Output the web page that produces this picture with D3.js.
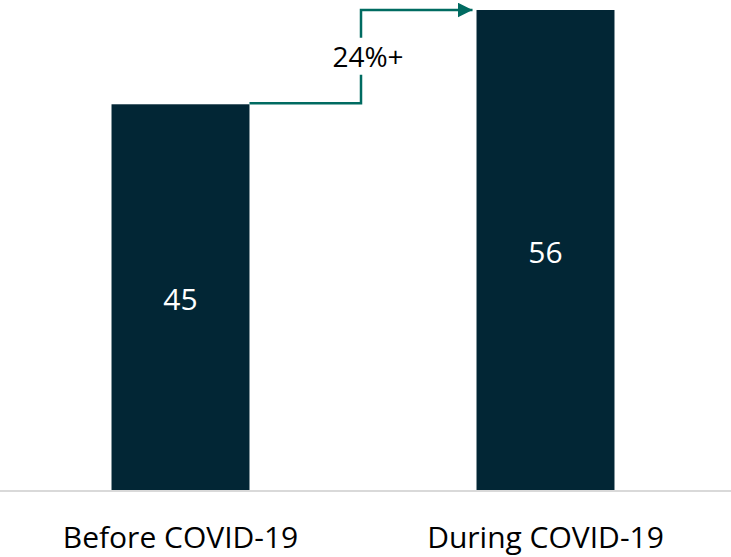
<!DOCTYPE html>
<html>
<head>
<meta charset="utf-8">
<script src="https://cdn.jsdelivr.net/npm/d3@7"></script>
<style>
  body { margin: 0; background: #fff; }
  svg { display: block; font-family: "Open Sans", "Noto Sans", sans-serif; }
</style>
</head>
<body>
<div id="chart"></div>
<script>
const categories = ["Before COVID-19", "During COVID-19"];
const values = [45, 56];
const changeLabel = "24%+";

const width = 731, height = 557;
const baseY = 490, topY = 10;

const svg = d3.select("#chart").append("svg")
    .attr("width", width)
    .attr("height", height);

const x = d3.scaleBand()
    .domain(categories)
    .range([-2, 728])
    .paddingInner(0.622)
    .paddingOuter(0.311);

const y = d3.scaleLinear()
    .domain([0, d3.max(values)])
    .range([baseY, topY]);

const data = categories.map((c, i) => ({ cat: c, value: values[i] }));

// bars
svg.selectAll("rect.bar")
    .data(data)
    .join("rect")
    .attr("class", "bar")
    .attr("x", d => x(d.cat))
    .attr("y", d => y(d.value))
    .attr("width", x.bandwidth())
    .attr("height", d => y(0) - y(d.value))
    .attr("fill", "#022635");

// value labels
svg.selectAll("text.val")
    .data(data)
    .join("text")
    .attr("class", "val")
    .attr("x", d => x(d.cat) + x.bandwidth() / 2)
    .attr("y", d => (y(d.value) + y(0)) / 2 + 2)
    .attr("dy", "0.35em")
    .attr("text-anchor", "middle")
    .attr("fill", "#fff")
    .style("font-size", "30px")
    .text(d => d.value);

// baseline
svg.append("line")
    .attr("x1", 0).attr("x2", width)
    .attr("y1", y(0) + 1).attr("y2", y(0) + 1)
    .attr("stroke", "#d9d9d9")
    .attr("stroke-width", 2);

// category labels
svg.selectAll("text.cat")
    .data(categories)
    .join("text")
    .attr("class", "cat")
    .attr("x", d => x(d) + x.bandwidth() / 2)
    .attr("y", 537)
    .attr("dy", "0.35em")
    .attr("text-anchor", "middle")
    .attr("fill", "#000")
    .style("font-size", "30px")
    .text(d => d);

// growth arrow
const x0 = x(categories[0]) + x.bandwidth();
const x2 = x(categories[1]);
const midX = (x0 + x2) / 2 - 2;
const y0 = y(values[0]) - 1;
const y1 = y(values[1]);
const labelY = (y0 + y1) / 2;

svg.append("defs").append("marker")
    .attr("id", "arrow")
    .attr("viewBox", "0 0 10 10")
    .attr("refX", 10).attr("refY", 5)
    .attr("markerWidth", 6).attr("markerHeight", 6)
    .attr("markerUnits", "strokeWidth")
    .attr("orient", "auto")
    .append("path")
    .attr("d", "M0,0 L10,5 L0,10 Z")
    .attr("fill", "#006b61");

const teal = "#006b61";
svg.append("path")
    .attr("d", `M${x0},${y0} H${midX} V${labelY + 18}`)
    .attr("fill", "none")
    .attr("stroke", teal)
    .attr("stroke-width", 2.5);

svg.append("path")
    .attr("d", `M${midX},${labelY - 19} V${y1} H${x2 - 4}`)
    .attr("fill", "none")
    .attr("stroke", teal)
    .attr("stroke-width", 2.5)
    .attr("marker-end", "url(#arrow)");

svg.append("text")
    .attr("x", midX + 7)
    .attr("y", labelY + 1)
    .attr("dy", "0.35em")
    .attr("text-anchor", "middle")
    .attr("fill", "#000")
    .style("font-size", "28px")
    .text(changeLabel);
</script>
</body>
</html>
